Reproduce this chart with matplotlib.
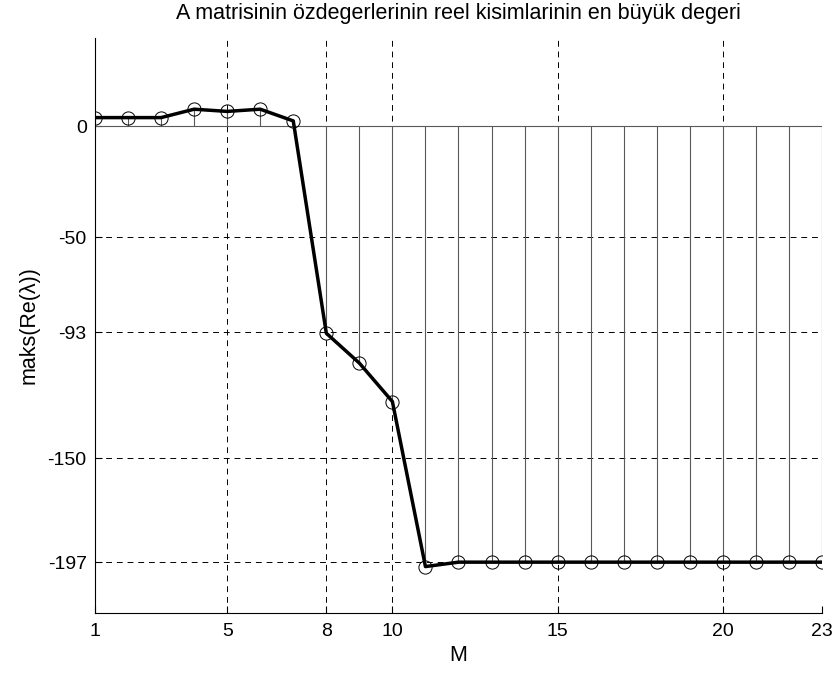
import numpy as np
import matplotlib
matplotlib.use('Agg')
import matplotlib.pyplot as plt

plt.rcParams['font.family'] = ['Liberation Sans', 'DejaVu Sans']
plt.rcParams['axes.unicode_minus'] = False

# M değerleri ve en büyük reel kısım
M = list(range(1, 24))
maks_re = [4.0, 4.0, 4.0, 7.8, 6.8, 7.8, 2.5,
           -93.5, -107.0, -124.4, -199.0,
           -197, -197, -197, -197, -197, -197, -197, -197, -197, -197, -197, -197]

x_ticks = [1, 5, 8, 10, 15, 20, 23]
y_ticks = [-197, -150, -93, -50, 0]

fig = plt.figure(figsize=(8.34, 6.77), dpi=100, facecolor='white')
ax = fig.add_axes([0.1139, 0.0945, 0.8717, 0.8494])

# gövde çizgileri (stem) ve taban çizgisi
ax.vlines(M, 0, maks_re, colors='0.35', linewidth=0.8, zorder=2)
ax.axhline(0, color='0.35', linewidth=0.8, zorder=2)

# eğri ve daire işaretleri
ax.plot(M, maks_re, color='black', linewidth=2.5, zorder=3)
ax.plot(M, maks_re, linestyle='none', marker='o', markersize=9.5,
        markerfacecolor='none', markeredgecolor='black', markeredgewidth=0.7, zorder=4)

ax.set_xlim(1, 23)
ax.set_ylim(-220, 40)
ax.set_xticks(x_ticks)
ax.set_yticks(y_ticks)
ax.tick_params(direction='in', labelsize=14, length=5, width=0.8)
ax.tick_params(axis='y', pad=6)
ax.tick_params(axis='x', pad=7)

ax.grid(True, color='black', linestyle=(0, (6, 5)), linewidth=0.7)
ax.set_axisbelow(True)

ax.spines['top'].set_visible(False)
ax.spines['right'].set_visible(False)
ax.spines['left'].set_linewidth(0.8)
ax.spines['bottom'].set_linewidth(0.8)

ax.set_title('A matrisinin özdegerlerinin reel kisimlarinin en büyük degeri',
             fontsize=15.5, pad=14)
ax.set_xlabel('M', fontsize=15.5, labelpad=4)
ax.set_ylabel('maks(Re(λ))', fontsize=15.5, labelpad=6)

fig.savefig('out.png', dpi=100)
